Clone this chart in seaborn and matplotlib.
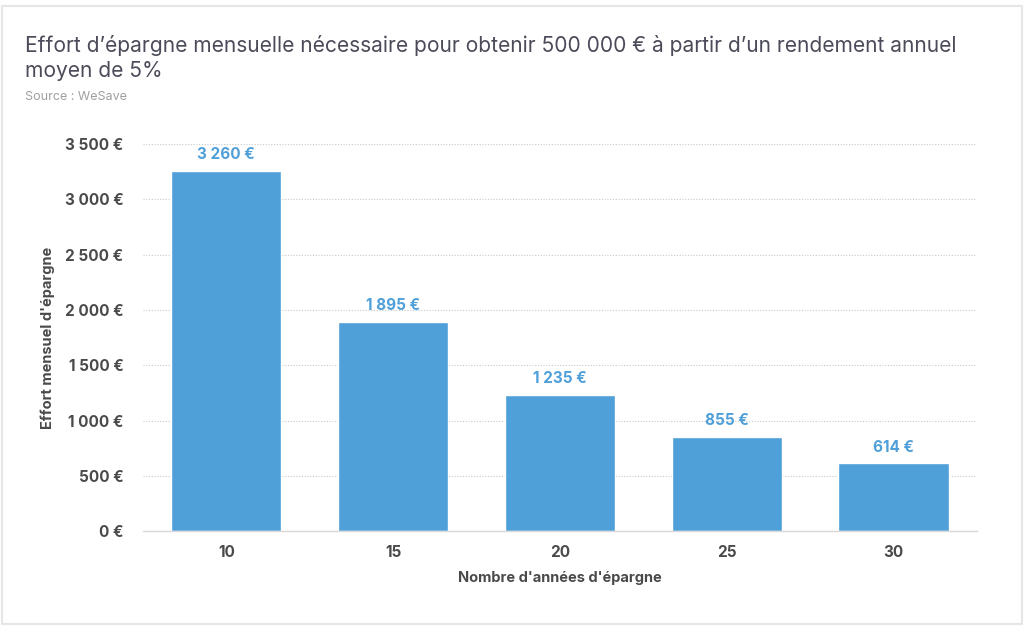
import numpy as np
import pandas as pd
import matplotlib.pyplot as plt
import seaborn as sns
from matplotlib.patches import Rectangle

# data
annees = ['10', '15', '20', '25', '30']
effort = [3260, 1895, 1235, 855, 614]
yticks = [0, 500, 1000, 1500, 2000, 2500, 3000, 3500]

df = pd.DataFrame({'annees': annees, 'effort': effort})

def fmt_eur(v):
    s = f"{int(v):,}".replace(',', ' ')
    return s + ' €'

sns.set_style('white')
plt.rcParams['font.family'] = ['Inter', 'DejaVu Sans']

bar_color = '#4f9fd9'
txt_color = '#4a4a4a'

fig = plt.figure(figsize=(10.24, 6.27), dpi=100)
ax = fig.add_axes([0.1396, 0.153, 0.8144, 0.617])

sns.barplot(data=df, x='annees', y='effort', color=bar_color, saturation=1,
            width=0.66, ax=ax)

ax.set_ylim(0, 3500)
ax.set_xlim(-0.5, 4.5)
ax.set_yticks(yticks)
ax.set_yticklabels([fmt_eur(v) for v in yticks])
ax.tick_params(axis='both', length=0, labelsize=11, labelcolor=txt_color)
for lab in ax.get_xticklabels() + ax.get_yticklabels():
    lab.set_fontweight('bold')
ax.tick_params(axis='y', pad=14)
ax.tick_params(axis='x', pad=10)

ax.grid(axis='y', linestyle=(0, (1, 1.5)), color='#c8c8c8', linewidth=0.8)
ax.set_axisbelow(True)
for side in ['top', 'right', 'left']:
    ax.spines[side].set_visible(False)
ax.spines['bottom'].set_color('#d8d8d8')
ax.spines['bottom'].set_linewidth(1)

ax.set_xlabel("Nombre d'années d'épargne", fontsize=10.5, fontweight='bold',
              color=txt_color, labelpad=8)
ax.set_ylabel("Effort mensuel d'épargne", fontsize=10.5, fontweight='bold',
              color=txt_color, labelpad=7)

for cont in ax.containers:
    ax.bar_label(cont, labels=[fmt_eur(v) for v in effort], padding=6,
                 color=bar_color, fontsize=11, fontweight='bold')

fig.text(0.024, 0.927, "Effort d’épargne mensuelle nécessaire pour obtenir 500 000 € à partir d’un rendement annuel",
         fontsize=15.1, color='#4b4b5a', va='center')
fig.text(0.024, 0.887, "moyen de 5%", fontsize=15.1, color='#4b4b5a', va='center')
fig.text(0.024, 0.845, "Source : WeSave", fontsize=9, color='#a0a0a0', va='center')

# light card border
fig.patches.append(Rectangle((0.002, 0.004), 0.996, 0.986, transform=fig.transFigure,
                             fill=False, edgecolor='#e6e6e6', linewidth=1.5))

fig.savefig('out.png', dpi=100)
